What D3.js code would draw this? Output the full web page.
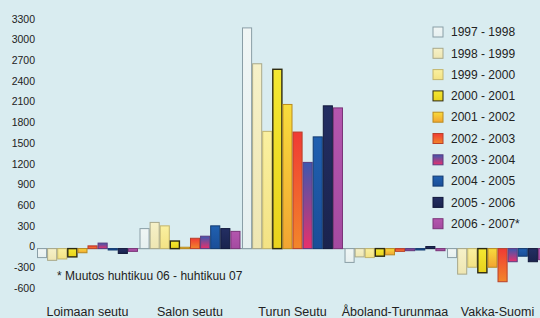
<!DOCTYPE html>
<html>
<head>
<meta charset="utf-8">
<script src="https://cdn.jsdelivr.net/npm/d3@7"></script>
<style>
  body { margin: 0; background: #d9ecf0; }
  svg { display: block; font-family: "Liberation Sans", Arial, sans-serif; }
</style>
</head>
<body>
<div class="chart"></div>
<script>
const regions = ['Loimaan seutu', 'Salon seutu', 'Turun Seutu', 'Åboland-Turunmaa', 'Vakka-Suomi'];
const periods = ['1997 - 1998', '1998 - 1999', '1999 - 2000', '2000 - 2001', '2001 - 2002',
  '2002 - 2003', '2003 - 2004', '2004 - 2005', '2005 - 2006', '2006 - 2007*'];
const yTicks = [3300, 3000, 2700, 2400, 2100, 1800, 1500, 1200, 900, 600, 300, 0, -300, -600];

// one row per region, one value per period
const loimaan = [-130, -170, -150, -120, -60, 40, 80, -20, -70, -40];
const salon = [290, 380, 330, 110, 20, 150, 180, 330, 290, 250];
const turku = [3200, 2680, 1700, 2600, 2090, 1690, 1250, 1620, 2070, 2040];
const aboland = [-200, -120, -130, -110, -90, -40, -30, -20, 30, -30];
const vakka = [-130, -370, -270, -350, -270, -480, -190, -110, -190, -160];
const values = [loimaan, salon, turku, aboland, vakka];

const note = '* Muutos huhtikuu 06 - huhtikuu 07';

// fill top / fill bottom / outline per period
const colors = [
  ['#f0f6f5', '#e6f0f0', '#8a9ea6'],
  ['#f6f1c8', '#eee6b2', '#a8a88a'],
  ['#faf0a0', '#f3e284', '#c2b46c'],
  ['#f4e832', '#e8d21c', '#2e2a10'],
  ['#f8dc3c', '#f2a432', '#b98a1e'],
  ['#f03a34', '#f2862a', '#b8402a'],
  ['#3c58b0', '#e8306c', '#5a3a80'],
  ['#2060b0', '#1a4e98', '#123a70'],
  ['#232e62', '#1a234e', '#10173a'],
  ['#b456ae', '#a44aa0', '#7a3478']
];

const width = 540, height = 318;
const svg = d3.select('.chart').append('svg').attr('width', width).attr('height', height);

const defs = svg.append('defs');
colors.forEach((c, i) => {
  const g = defs.append('linearGradient').attr('id', 'grad' + i)
    .attr('x1', 0).attr('y1', 0).attr('x2', 0).attr('y2', 1);
  g.append('stop').attr('offset', '0%').attr('stop-color', c[0]);
  g.append('stop').attr('offset', '100%').attr('stop-color', c[1]);
});

const y = d3.scaleLinear().domain([-600, 3300]).range([290, 21]);
const x0 = d3.scaleBand().domain(regions).range([37, 548]).paddingInner(0.015);
const x1 = d3.scaleBand().domain(periods).range([0, x0.bandwidth()]);

// y labels
svg.append('g').selectAll('text').data(yTicks).join('text')
  .attr('x', 35).attr('y', d => y(d) - 2)
  .attr('dy', '0.35em')
  .attr('text-anchor', 'end')
  .attr('font-size', 10.5)
  .attr('fill', '#222')
  .text(d => d);

// baseline
svg.append('line')
  .attr('x1', 37).attr('x2', 548)
  .attr('y1', y(0)).attr('y2', y(0))
  .attr('stroke', '#7f8f96').attr('stroke-width', 1);

// bars
const groups = svg.append('g').selectAll('g').data(regions).join('g')
  .attr('transform', d => `translate(${x0(d)},0)`);

groups.selectAll('rect')
  .data((d, gi) => values[gi].map((v, pi) => ({ v, pi })))
  .join('rect')
  .attr('x', d => x1(periods[d.pi]) + 0.5)
  .attr('width', x1.bandwidth() - 1)
  .attr('y', d => y(Math.max(0, d.v)))
  .attr('height', d => Math.abs(y(d.v) - y(0)))
  .attr('fill', d => `url(#grad${d.pi})`)
  .attr('stroke', d => colors[d.pi][2])
  .attr('stroke-width', d => d.pi === 3 ? 1.4 : 1);

// category labels
svg.append('g').selectAll('text').data(regions).join('text')
  .attr('x', d => x0(d) + x0.bandwidth() / 2)
  .attr('y', 316)
  .attr('text-anchor', 'middle')
  .attr('font-size', 12.5)
  .attr('fill', '#222')
  .text(d => d);

// footnote
svg.append('text')
  .attr('x', 57).attr('y', 280)
  .attr('font-size', 12)
  .attr('fill', '#222')
  .text(note);

// legend
const legend = svg.append('g').selectAll('g').data(periods).join('g')
  .attr('transform', (d, i) => `translate(433,${32 + i * 21.3})`);

legend.append('rect')
  .attr('x', 0).attr('y', -5)
  .attr('width', 10).attr('height', 10)
  .attr('fill', (d, i) => `url(#grad${i})`)
  .attr('stroke', (d, i) => colors[i][2])
  .attr('stroke-width', 1);

legend.append('text')
  .attr('x', 18).attr('y', 0)
  .attr('dy', '0.35em')
  .attr('font-size', 12)
  .attr('fill', '#222')
  .text(d => d);
</script>
</body>
</html>
